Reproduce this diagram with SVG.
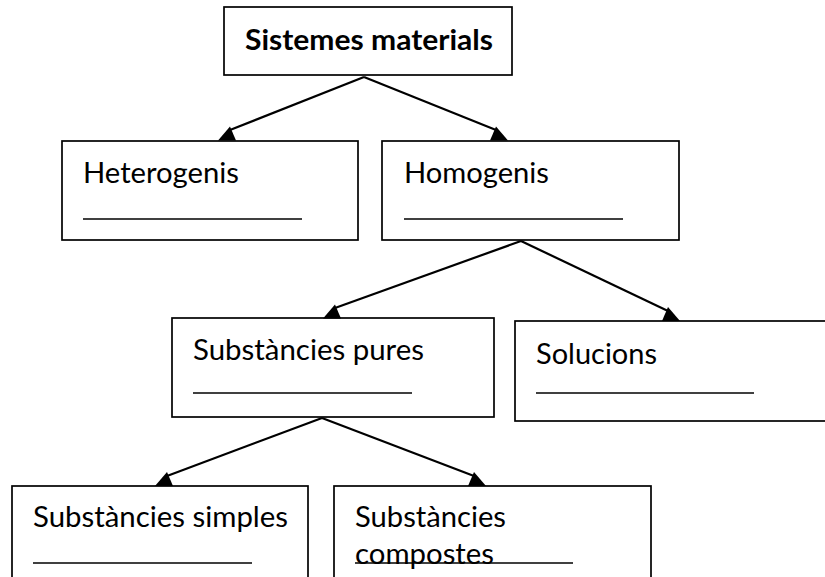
<svg xmlns="http://www.w3.org/2000/svg" xmlns:xlink="http://www.w3.org/1999/xlink" width="825" height="577" viewBox="0 0 825 577">
<style>
.box{fill:#fff;stroke:#000;stroke-width:1.7}
.t{font-family:Lato,"Liberation Sans",sans-serif;font-size:28px;fill:#000}
.b{font-weight:bold}
.ul{stroke:#000;stroke-width:1.5}
.conn line{stroke:#000;stroke-width:2.2}
.conn use{fill:#000}
</style>
<defs>
<path id="ahL" d="M-12,0 L6,0 L0,-14 Z"/>
<path id="ahR" d="M-6,0 L12,0 L0,-14 Z"/>
</defs>
<rect width="825" height="577" fill="#fff"/>
<g id="n-sistemes">
<rect class="box" x="224" y="7" width="288" height="68"/>
<text class="t b" x="245" y="50" textLength="248" lengthAdjust="spacingAndGlyphs">Sistemes materials</text>
</g>
<g id="n-heterogenis">
<rect class="box" x="62" y="141" width="296" height="99"/>
<text class="t" x="83" y="183" textLength="156" lengthAdjust="spacingAndGlyphs">Heterogenis</text>
<line class="ul" x1="83" y1="219" x2="302" y2="219"/>
</g>
<g id="n-homogenis">
<rect class="box" x="382" y="141" width="297" height="99"/>
<text class="t" x="404" y="183" textLength="145" lengthAdjust="spacingAndGlyphs">Homogenis</text>
<line class="ul" x1="404" y1="219" x2="623" y2="219"/>
</g>
<g id="n-pures">
<rect class="box" x="172" y="318" width="322" height="99"/>
<text class="t" x="193" y="360" textLength="231" lengthAdjust="spacingAndGlyphs">Substàncies pures</text>
<line class="ul" x1="193" y1="393" x2="412" y2="393"/>
</g>
<g id="n-solucions">
<rect class="box" x="515" y="321" width="330" height="100"/>
<text class="t" x="536" y="364" textLength="121" lengthAdjust="spacingAndGlyphs">Solucions</text>
<line class="ul" x1="536" y1="393" x2="754" y2="393"/>
</g>
<g id="n-simples">
<rect class="box" x="12" y="486" width="296" height="120"/>
<text class="t" x="33" y="527" textLength="255" lengthAdjust="spacingAndGlyphs">Substàncies simples</text>
<line class="ul" x1="33" y1="563" x2="252" y2="563"/>
</g>
<g id="n-compostes">
<rect class="box" x="334" y="486" width="317" height="120"/>
<text class="t" x="355" y="527" textLength="151" lengthAdjust="spacingAndGlyphs">Substàncies</text>
<text class="t" x="355" y="564" textLength="139" lengthAdjust="spacingAndGlyphs">compostes</text>
<line class="ul" x1="355" y1="563" x2="573" y2="563"/>
</g>
<g id="connectors" class="conn">
<line x1="364" y1="77" x2="230" y2="130"/>
<use xlink:href="#ahL" x="230" y="140.5"/>
<line x1="364" y1="77" x2="496" y2="130"/>
<use xlink:href="#ahR" x="496" y="140.5"/>
<line x1="521" y1="241" x2="335" y2="308"/>
<use xlink:href="#ahL" x="335" y="318.5"/>
<line x1="521" y1="241" x2="668" y2="311"/>
<use xlink:href="#ahR" x="668" y="321"/>
<line x1="322" y1="418" x2="167" y2="476"/>
<use xlink:href="#ahL" x="167" y="486"/>
<line x1="322" y1="418" x2="474" y2="476"/>
<use xlink:href="#ahR" x="474" y="486"/>
</g>
</svg>
